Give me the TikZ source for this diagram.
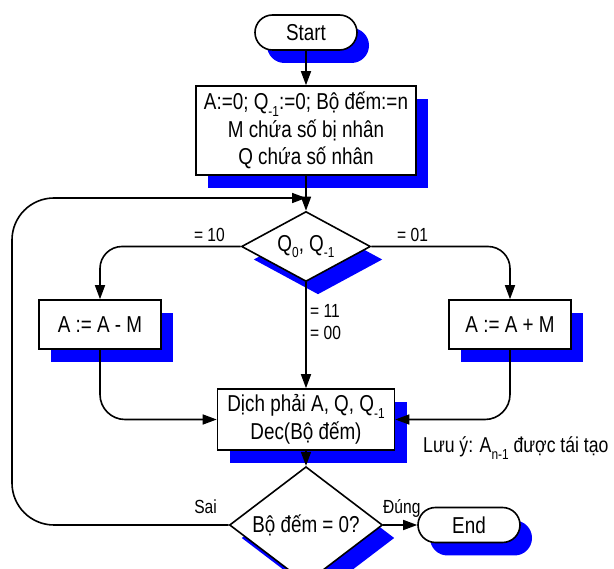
\documentclass[tikz,border=0pt]{standalone}
\usepackage{fontspec}
\setmainfont{Liberation Sans}[FakeStretch=0.82]
\usepackage{tikz}
\usetikzlibrary{arrows.meta,shapes.geometric,shapes.misc,shadows}

\newcommand{\idx}[1]{\raisebox{-0.3em}{\fontsize{14.5}{14.5}\selectfont #1}}

\begin{document}
\begin{tikzpicture}[x=1pt, y=-1pt,
		every node/.style={font=\fontsize{23}{27.5}\selectfont},
		blueshadow/.style={drop shadow={shadow xshift=12pt, shadow yshift=-13pt, fill=blue, opacity=1}},
		term/.style={rounded rectangle, draw, fill=white, line width=1.6pt, minimum width=102pt, minimum height=35pt, inner sep=0pt, blueshadow},
		proc/.style={rectangle, draw, fill=white, line width=1.6pt, align=center, inner sep=0pt, blueshadow},
		decide/.style={diamond, draw, fill=white, line width=1.6pt, inner sep=-3pt, blueshadow},
		lbl/.style={font=\fontsize{19}{19}\selectfont, inner sep=0pt},
		arr/.style={line width=1.6pt, -{Triangle[length=14pt, width=10pt]}}]
	\useasboundingbox (0,0) rectangle (614,569);
	% Nodes
	\node[term] (start) at (306,32.5) {Start};
	\node[proc, minimum width=220pt, minimum height=89pt] (init) at (306,130.5) {A:=0; Q\idx{-1}:=0; Bộ đếm:=n\\M chứa số bị nhân\\Q chứa số nhân};
	\node[decide, minimum width=129pt, minimum height=70pt] (test) at (306,246.5) {Q\idx{0}, Q\idx{-1}};
	\node[proc, minimum width=122pt, minimum height=49pt] (sub) at (100,324.5) {A := A - M};
	\node[proc, minimum width=122pt, minimum height=49pt] (add) at (510,324.5) {A := A + M};
	\node[proc, minimum width=177pt, minimum height=61pt] (shift) at (306,419.5) {Dịch phải A, Q, Q\idx{-1}\\Dec(Bộ đếm)};
	\node[decide, minimum width=153pt, minimum height=70pt] (count) at (306,525) {Bộ đếm = 0?};
	\node[term] (end) at (469,525) {End};
	\coordinate (merge) at (306,198);
	\coordinate (loopx) at (12,0);
	% Labels
	\node[lbl, anchor=base east] (l10) at (225,242) {= 10};
	\node[lbl, anchor=base west] (l01) at (397,242) {= 01};
	\node[lbl, anchor=base west] (l11) at (310,318) {= 11};
	\node[lbl, anchor=base west] (l00) at (310,340) {= 00};
	\node[lbl, anchor=base east] (lno) at (217,514) {Sai};
	\node[lbl, anchor=base west] (lyes) at (383,514) {Đúng};
	\node[anchor=base west, inner sep=0pt, font=\fontsize{21.5}{21.5}\selectfont] (note) at (423,453) {Lưu ý: A\idx{n-1} được tái tạo};
	% Edges
	\draw[arr] (start) -- (init);
	\draw[arr] (init) -- (test);
	\draw[arr, rounded corners=22pt] (test.west) -- (test.west -| sub) -- (sub);
	\draw[arr, rounded corners=22pt] (test.east) -- (test.east -| add) -- (add);
	\draw[arr] (test) -- (shift);
	\draw[arr, rounded corners=25pt] (sub) -- (sub |- shift) -- (shift);
	\draw[arr, rounded corners=25pt] (add) -- (add |- shift) -- (shift);
	\draw[arr] (shift) -- (count);
	\draw[arr] (count) -- (end);
	\draw[arr, rounded corners=42pt] (count.west) -- (count.west -| loopx) -- (merge -| loopx) -- (merge);
\end{tikzpicture}
\end{document}
